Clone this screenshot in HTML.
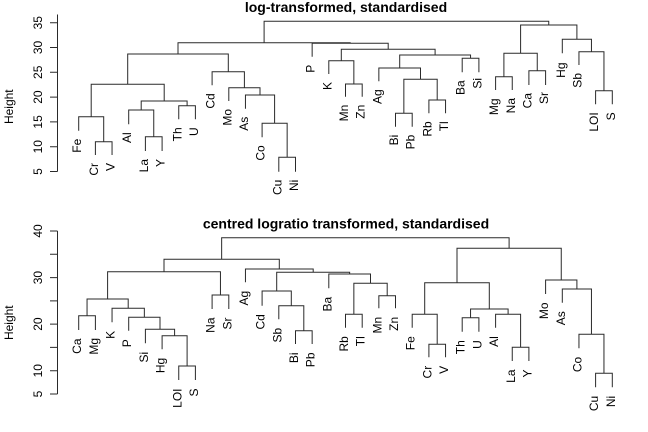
<!DOCTYPE html>
<html><head><meta charset="utf-8"><style>
html,body{margin:0;padding:0;background:#fff;}
svg{display:block;}
text{font-family:"Liberation Sans",Arial,sans-serif;fill:#000;}
.l{font-size:12px;}
.t{font-size:14px;font-weight:bold;}
</style></head><body>
<svg width="648" height="432" viewBox="0 0 648 432" xmlns="http://www.w3.org/2000/svg">
<rect width="648" height="432" fill="#fff"/>
<g fill="none" stroke="#2a2a2a" stroke-width="1">
<!-- top dendrogram -->
<path d="M278.8 171.7 V157.3 H295.5 V171.7"/>
<path d="M262.1 137.3 V123.3 H287.15 V157.3"/>
<path d="M245.45 108.7 V95 H274.6 V123.3"/>
<path d="M228.8 101 V87.7 H260 V95"/>
<path d="M212.1 85.3 V71.7 H244.4 V87.7"/>
<path d="M95.4 155 V141.7 H112.05 V155"/>
<path d="M78.7 130.7 V116.7 H103.7 V141.7"/>
<path d="M145.4 151 V136.7 H162.1 V151"/>
<path d="M128.7 124.3 V110 H153.75 V136.7"/>
<path d="M178.75 119.3 V105.7 H195.4 V119.3"/>
<path d="M141.2 110 V101 H187.1 V105.7"/>
<path d="M91.2 116.7 V84.3 H164.2 V101"/>
<path d="M127.7 84.3 V54 H228.3 V71.7"/>
<path d="M345.5 96.7 V84 H362.2 V96.7"/>
<path d="M328.8 74 V60.7 H353.85 V84"/>
<path d="M395.5 126.7 V113.3 H412.2 V126.7"/>
<path d="M428.9 113.3 V100 H445.55 V113.3"/>
<path d="M403.85 113.3 V79.3 H437.2 V100"/>
<path d="M378.85 81.3 V68 H420.5 V79.3"/>
<path d="M462.2 72.3 V58.3 H478.9 V72.3"/>
<path d="M399.7 68 V55 H470.55 V58.3"/>
<path d="M341.3 60.7 V49.3 H435.1 V55"/>
<path d="M312.15 56.7 V43.3 H388.2 V49.3"/>
<path d="M178 54 V42.7 H350.2 V43.3"/>
<path d="M495.6 90 V76.7 H512.25 V90"/>
<path d="M528.9 85 V70.7 H545.6 V85"/>
<path d="M503.9 76.7 V53.3 H537.25 V70.7"/>
<path d="M595.6 104.3 V90.7 H612.3 V104.3"/>
<path d="M578.95 65 V51.7 H603.95 V90.7"/>
<path d="M562.3 53.3 V39.3 H591.45 V51.7"/>
<path d="M520.6 53.3 V25 H576.9 V39.3"/>
<path d="M264.1 42.7 V21.3 H548.75 V25"/>
<!-- top axis -->
<path d="M57.5 14.5 V171.5"/>
<path d="M50 22.7 H57.5 M50 47.5 H57.5 M50 72.3 H57.5 M50 97.1 H57.5 M50 121.9 H57.5 M50 146.7 H57.5 M50 171.5 H57.5"/>
<!-- bottom dendrogram -->
<path d="M78.7 330 V315.7 H95.4 V330"/>
<path d="M178.75 380 V366 H195.4 V380"/>
<path d="M162.1 349.3 V335.7 H187.1 V366"/>
<path d="M145.4 343.3 V329.3 H174.6 V335.7"/>
<path d="M128.7 330.7 V317.3 H160 V329.3"/>
<path d="M112.05 322.3 V308.3 H144.35 V317.3"/>
<path d="M87.05 315.7 V299 H128.2 V308.3"/>
<path d="M212.1 309 V295 H228.8 V309"/>
<path d="M107.6 299 V271.7 H220.45 V295"/>
<path d="M295.5 344 V330.7 H312.15 V344"/>
<path d="M278.8 319.3 V305.7 H303.8 V330.7"/>
<path d="M262.1 305.7 V291 H291.3 V305.7"/>
<path d="M345.5 327.7 V314.3 H362.2 V327.7"/>
<path d="M378.85 308.3 V295.7 H395.5 V308.3"/>
<path d="M353.85 314.3 V283.3 H387.2 V295.7"/>
<path d="M328.8 288.3 V274 H370.5 V283.3"/>
<path d="M276.7 291 V272.3 H349.65 V274"/>
<path d="M245.45 282.3 V269 H313.2 V272.3"/>
<path d="M164 271.7 V259.3 H279.3 V269"/>
<path d="M428.9 357.3 V344.3 H445.55 V357.3"/>
<path d="M412.2 327.7 V314.3 H437.2 V344.3"/>
<path d="M462.2 331.7 V317.7 H478.9 V331.7"/>
<path d="M512.25 361 V347.3 H528.9 V361"/>
<path d="M495.6 327.7 V314.3 H520.6 V347.3"/>
<path d="M470.55 317.7 V309 H508.1 V314.3"/>
<path d="M424.7 314.3 V282.7 H489.3 V309"/>
<path d="M595.6 387.3 V373.3 H612.3 V387.3"/>
<path d="M578.95 348.3 V334.3 H603.95 V373.3"/>
<path d="M562.3 302.7 V289 H591.45 V334.3"/>
<path d="M545.6 294 V280 H576.9 V289"/>
<path d="M457 282.7 V248.3 H561.25 V280"/>
<path d="M221.65 259.3 V237.7 H509.1 V248.3"/>
<!-- bottom axis -->
<path d="M57.5 231 V394"/>
<path d="M50 231 H57.5 M50 254.3 H57.5 M50 277.6 H57.5 M50 300.9 H57.5 M50 324.1 H57.5 M50 347.4 H57.5 M50 370.7 H57.5 M50 394 H57.5"/>
</g>

<!-- titles -->
<text class="t" x="346" y="12" text-anchor="middle">log-transformed, standardised</text>
<text class="t" x="346" y="228.5" text-anchor="middle">centred logratio transformed, standardised</text>

<!-- y axis labels -->
<g class="l" text-anchor="middle">
<text transform="translate(13,106.7) rotate(-90)">Height</text>
<text transform="translate(13,322.7) rotate(-90)">Height</text>
<text transform="translate(42,22.7) rotate(-90)">35</text>
<text transform="translate(42,47.5) rotate(-90)">30</text>
<text transform="translate(42,72.3) rotate(-90)">25</text>
<text transform="translate(42,97.1) rotate(-90)">20</text>
<text transform="translate(42,121.9) rotate(-90)">15</text>
<text transform="translate(42,146.7) rotate(-90)">10</text>
<text transform="translate(42,171.5) rotate(-90)">5</text>
<text transform="translate(42,231) rotate(-90)">40</text>
<text transform="translate(42,277.6) rotate(-90)">30</text>
<text transform="translate(42,324.1) rotate(-90)">20</text>
<text transform="translate(42,370.7) rotate(-90)">10</text>
<text transform="translate(42,394) rotate(-90)">5</text>
</g>

<!-- top leaf labels -->
<g class="l" text-anchor="end">
<text transform="translate(81.2,138.7) rotate(-90)">Fe</text>
<text transform="translate(97.9,163) rotate(-90)">Cr</text>
<text transform="translate(114.55,163) rotate(-90)">V</text>
<text transform="translate(131.2,132.3) rotate(-90)">Al</text>
<text transform="translate(147.9,159) rotate(-90)">La</text>
<text transform="translate(164.6,159) rotate(-90)">Y</text>
<text transform="translate(181.25,127.3) rotate(-90)">Th</text>
<text transform="translate(197.9,127.3) rotate(-90)">U</text>
<text transform="translate(214.6,93.3) rotate(-90)">Cd</text>
<text transform="translate(231.3,109) rotate(-90)">Mo</text>
<text transform="translate(247.95,116.7) rotate(-90)">As</text>
<text transform="translate(264.6,145.3) rotate(-90)">Co</text>
<text transform="translate(281.3,179.7) rotate(-90)">Cu</text>
<text transform="translate(298,179.7) rotate(-90)">Ni</text>
<text transform="translate(314.65,64.7) rotate(-90)">P</text>
<text transform="translate(331.3,82) rotate(-90)">K</text>
<text transform="translate(348,104.7) rotate(-90)">Mn</text>
<text transform="translate(364.7,104.7) rotate(-90)">Zn</text>
<text transform="translate(381.35,89.3) rotate(-90)">Ag</text>
<text transform="translate(398,134.7) rotate(-90)">Bi</text>
<text transform="translate(414.7,134.7) rotate(-90)">Pb</text>
<text transform="translate(431.4,121.3) rotate(-90)">Rb</text>
<text transform="translate(448.05,121.3) rotate(-90)">Tl</text>
<text transform="translate(464.7,80.3) rotate(-90)">Ba</text>
<text transform="translate(481.4,78) rotate(-90)">Si</text>
<text transform="translate(498.1,98.5) rotate(-90)">Mg</text>
<text transform="translate(514.75,98) rotate(-90)">Na</text>
<text transform="translate(531.4,93) rotate(-90)">Ca</text>
<text transform="translate(548.1,92) rotate(-90)">Sr</text>
<text transform="translate(564.8,62.5) rotate(-90)">Hg</text>
<text transform="translate(581.45,73) rotate(-90)">Sb</text>
<text transform="translate(598.1,112.3) rotate(-90)">LOI</text>
<text transform="translate(614.8,112.3) rotate(-90)">S</text>
</g>

<!-- bottom leaf labels -->
<g class="l" text-anchor="end">
<text transform="translate(81.2,338.5) rotate(-90)">Ca</text>
<text transform="translate(97.9,338) rotate(-90)">Mg</text>
<text transform="translate(114.55,330.8) rotate(-90)">K</text>
<text transform="translate(131.2,339.2) rotate(-90)">P</text>
<text transform="translate(147.9,351.8) rotate(-90)">Si</text>
<text transform="translate(164.6,357.8) rotate(-90)">Hg</text>
<text transform="translate(181.25,388.5) rotate(-90)">LOI</text>
<text transform="translate(197.9,388.5) rotate(-90)">S</text>
<text transform="translate(214.6,317.5) rotate(-90)">Na</text>
<text transform="translate(231.3,317.5) rotate(-90)">Sr</text>
<text transform="translate(247.95,290.8) rotate(-90)">Ag</text>
<text transform="translate(264.6,314.2) rotate(-90)">Cd</text>
<text transform="translate(281.3,327.8) rotate(-90)">Sb</text>
<text transform="translate(298,352.5) rotate(-90)">Bi</text>
<text transform="translate(314.65,352.5) rotate(-90)">Pb</text>
<text transform="translate(331.3,296.8) rotate(-90)">Ba</text>
<text transform="translate(348,336.2) rotate(-90)">Rb</text>
<text transform="translate(364.7,336.2) rotate(-90)">Tl</text>
<text transform="translate(381.35,316.8) rotate(-90)">Mn</text>
<text transform="translate(398,316.8) rotate(-90)">Zn</text>
<text transform="translate(414.7,336.2) rotate(-90)">Fe</text>
<text transform="translate(431.4,365.8) rotate(-90)">Cr</text>
<text transform="translate(448.05,365.8) rotate(-90)">V</text>
<text transform="translate(464.7,340.2) rotate(-90)">Th</text>
<text transform="translate(481.4,340.2) rotate(-90)">U</text>
<text transform="translate(498.1,336.2) rotate(-90)">Al</text>
<text transform="translate(514.75,369.5) rotate(-90)">La</text>
<text transform="translate(531.4,369.5) rotate(-90)">Y</text>
<text transform="translate(548.1,302.5) rotate(-90)">Mo</text>
<text transform="translate(564.8,311.2) rotate(-90)">As</text>
<text transform="translate(581.45,356.8) rotate(-90)">Co</text>
<text transform="translate(598.1,395.8) rotate(-90)">Cu</text>
<text transform="translate(614.8,395.8) rotate(-90)">Ni</text>
</g>
</svg>
</body></html>
